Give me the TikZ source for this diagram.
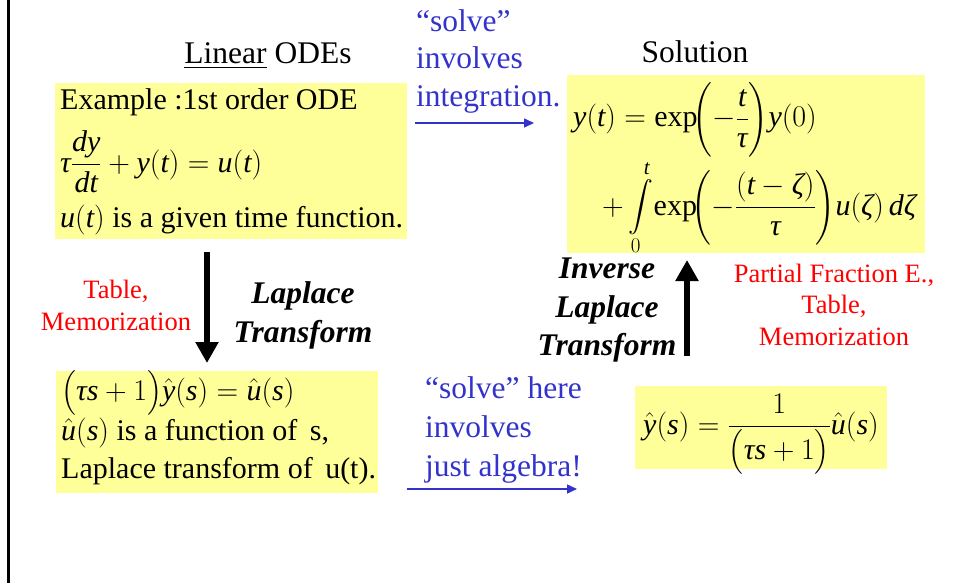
\RequirePackage{fix-cm}
\documentclass[tikz,border=0pt]{standalone}
\usepackage{amsmath}
\usepackage{fontspec}
\setmainfont{Liberation Serif}
\usetikzlibrary{arrows.meta}
\definecolor{ybg}{RGB}{255,255,153}
\definecolor{bl}{RGB}{51,51,204}
\definecolor{rd}{RGB}{255,0,0}
\newcommand\iv[1]{\text{\normalfont\itshape #1}}
\begin{document}
\begin{tikzpicture}[x=1pt,y=-1pt,
  ybox/.style={fill=ybg, draw=none, inner sep=0pt, anchor=north west},
  txt/.style={inner sep=0pt, anchor=base west, font=\fontsize{30}{36}\selectfont},
  head/.style={inner sep=0pt, anchor=base, font=\fontsize{31.5}{38}\selectfont},
  bluetxt/.style={inner sep=0pt, anchor=base west, text=bl, font=\fontsize{31.5}{38}\selectfont},
  redtxt/.style={inner sep=0pt, anchor=base, text=rd, font=\fontsize{26.5}{32}\selectfont},
  bitxt/.style={inner sep=0pt, anchor=base, font=\fontsize{31.5}{38}\selectfont\bfseries\itshape},
  bigarrow/.style={line width=6.5pt, -{Triangle[width=22pt,length=21pt]}},
  bluearrow/.style={draw=bl, line width=1.5pt, -{Triangle[width=9pt,length=10pt]}}
]
\useasboundingbox (0,0) rectangle (959,583);
\draw[line width=3pt] (8,0) -- (8,583);

% yellow boxes
\node[ybox, minimum width=352pt, minimum height=156pt] (b1) at (55,83) {};
\node[ybox, minimum width=358pt, minimum height=178pt] (b2) at (567,75) {};
\node[ybox, minimum width=322pt, minimum height=122pt] (b3) at (56,371) {};
\node[ybox, minimum width=252pt, minimum height=83pt] (b4) at (635,386) {};

% headings
\node[head] (h1) at (268,64) {\underline{Linear} ODEs};
\node[head] (h2) at (695,63) {Solution};

% box 1
\node[txt] (b1l1) at (60,110) {Example :1st order ODE};
\node[txt] (b1l2) at (60,172) {$\iv{τ}\dfrac{\iv{dy}}{\iv{dt}}+\iv{y}(\iv{t})=\iv{u}(\iv{t})$};
\node[txt] (b1l3) at (60,227) {$\iv{u}(\iv{t})$ is a given time function.};

% box 2
\node[txt] (b2l1) at (573,127) {$\iv{y}(\iv{t})=\text{exp}\!\biggl(-\dfrac{\iv{t}}{\iv{τ}}\biggr)\iv{y}(0)$};
\node[txt] (b2l2) at (602,215) {$\displaystyle +\int\limits_{0}^{\iv{t}}\!\text{exp}\!\biggl(-\frac{(\iv{t}-\iv{ζ})}{\iv{τ}}\biggr)\iv{u}(\iv{ζ})\,\iv{d}\iv{ζ}$};

% box 3
\node[txt] (b3l1) at (61,400) {$\bigl(\iv{τs}+1\bigr)\hat{\iv{y}}(\iv{s})=\hat{\iv{u}}(\iv{s})$};
\node[txt] (b3l2) at (61,440) {$\hat{\iv{u}}(\iv{s})$ is a function of\, s,};
\node[txt] (b3l3) at (61,478) {Laplace transform of\, u(t).};

% box 4
\node[txt] (b4l1) at (643,434) {$\hat{\iv{y}}(\iv{s})=\dfrac{1}{\bigl(\iv{τs}+1\bigr)}\hat{\iv{u}}(\iv{s})$};

% blue texts
\node[bluetxt] (s1a) at (416,32) {“solve”};
\node[bluetxt] (s1b) at (416,69) {involves};
\node[bluetxt] (s1c) at (416,107) {integration.};
\node[bluetxt] (s2a) at (425,398) {“solve” here};
\node[bluetxt] (s2b) at (425,437) {involves};
\node[bluetxt] (s2c) at (425,476) {just algebra!};

% red texts
\node[redtxt] (r1a) at (116,298) {Table,};
\node[redtxt] (r1b) at (116,330) {Memorization};
\node[redtxt] (r2a) at (834,282) {Partial Fraction E.,};
\node[redtxt] (r2b) at (834,313) {Table,};
\node[redtxt] (r2c) at (834,345) {Memorization};

% bold italic labels
\node[bitxt] (lt1) at (303,303) {Laplace};
\node[bitxt] (lt2) at (303,342) {Transform};
\node[bitxt] (il1) at (607,278) {Inverse};
\node[bitxt] (il2) at (607,317) {Laplace};
\node[bitxt] (il3) at (607,355) {Transform};

% arrows
\coordinate (d1) at (207,252);
\coordinate (d2) at (207,363);
\draw[bigarrow] (d1) -- (d2);
\coordinate (u1) at (687,356);
\coordinate (u2) at (687,260);
\draw[bigarrow] (u1) -- (u2);
\coordinate (a1) at (415,123);
\coordinate (a2) at (534,123);
\draw[bluearrow] (a1) -- (a2);
\coordinate (c1) at (407,489);
\coordinate (c2) at (577,489);
\draw[bluearrow] (c1) -- (c2);
\end{tikzpicture}
\end{document}
